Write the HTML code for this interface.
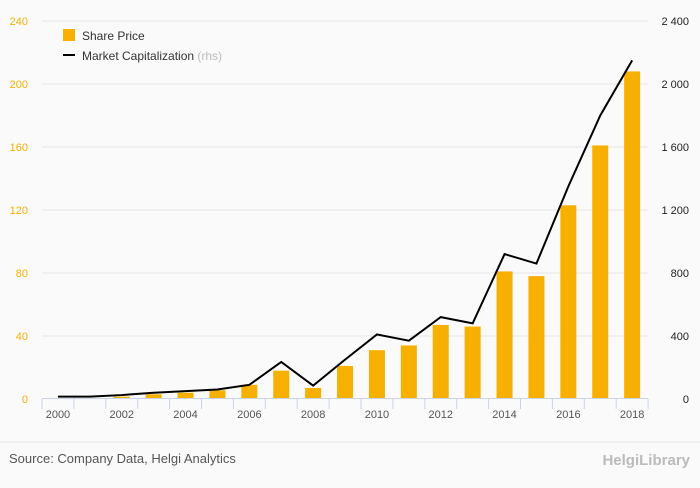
<!DOCTYPE html>
<html><head><meta charset="utf-8"><style>
body{margin:0;background:#fafafa;font-family:"Liberation Sans",sans-serif}
svg text{font-family:"Liberation Sans",sans-serif}
</style></head><body>
<svg id="c" width="700" height="483">
<rect width="700" height="483" fill="#fafafa"/>
<g id="grid"></g><g id="bars"></g><g id="axes"></g><g id="line"></g>
<g>
<rect x="63" y="29" width="12" height="12" fill="#f8b000"/>
<text x="82" y="40" font-size="12" fill="#333">Share Price</text>
<line x1="63" y1="55" x2="75" y2="55" stroke="#000" stroke-width="2"/>
<text x="82" y="60" font-size="12" fill="#333">Market Capitalization <tspan fill="#bbb">(rhs)</tspan></text>
</g>
<line x1="0" y1="442" x2="700" y2="442" stroke="#e4e4e4"/>
<text x="9" y="463" font-size="13" fill="#555">Source: Company Data, Helgi Analytics</text>
<text x="690" y="465" font-size="15" fill="#bbb" text-anchor="end" font-weight="bold">HelgiLibrary</text>
</svg>
<script>
const years=[2000,2001,2002,2003,2004,2005,2006,2007,2008,2009,2010,2011,2012,2013,2014,2015,2016,2017,2018];
const sharePrice=[0.3,0.5,1.5,3,4,5.5,9,18,7,21,31,34,47,46,81,78,123,161,208];
const marketCap=[15,15,25,40,50,60,90,235,85,250,410,370,520,480,920,860,1350,1800,2150];
const leftTicks=[0,40,80,120,160,200,240];
const rightTicks=[0,400,800,1200,1600,2000,2400];
const rightLabels=["0","400","800","1 200","1 600","2 000","2 400"];
const ns="http://www.w3.org/2000/svg";
const x0=42,step=31.9,yb=399,yt=21;
const xc=i=>x0+step*(i+0.5);
const yL=v=>yb-(v/240)*(yb-yt);
const yR=v=>yb-(v/2400)*(yb-yt);
function mk(p,t,a){const e=document.createElementNS(ns,t);for(const k in a)e.setAttribute(k,a[k]);p.appendChild(e);return e;}
const g=document.getElementById('grid'),b=document.getElementById('bars'),ax=document.getElementById('axes'),ln=document.getElementById('line');
leftTicks.forEach((v,i)=>{
 const y=yL(v);
 if(v>0){const l=mk(g,'line',{x1:x0,x2:648,y1:y,y2:y,stroke:'#e6e6e6'});
 
 }
 const t=mk(ax,'text',{x:28,y:y+4,'font-size':11,fill:'#f8b000','text-anchor':'end'});t.textContent=v;
 
 
});
rightTicks.forEach((v,i)=>{
 const t=mk(ax,'text',{x:689,y:yR(v)+4,'font-size':11,fill:'#222','text-anchor':'end'});t.textContent=rightLabels[i];
 
 
});
sharePrice.forEach((v,i)=>{
 const r=mk(b,'rect',{x:xc(i)-8,y:yL(v),width:16,height:yb-yL(v),fill:'#f8b000'});
 
 
});
const axl=mk(ax,'line',{x1:x0,x2:648,y1:yb-0.5,y2:yb-0.5,stroke:'#c8d4e6'});


for(let i=0;i<=years.length;i++){const x=x0+step*i;mk(ax,'line',{x1:x,x2:x,y1:yb,y2:yb+10,stroke:'#c8d4e6'});}
years.forEach((yr,i)=>{if(i%2==0){
 const t=mk(ax,'text',{x:xc(i),y:418,'font-size':11,fill:'#555','text-anchor':'middle'});t.textContent=yr;
 
 }});
const p=mk(ln,'polyline',{points:marketCap.map((v,i)=>xc(i)+','+yR(v)).join(' '),fill:'none',stroke:'#000','stroke-width':2});


</script>
</body></html>
